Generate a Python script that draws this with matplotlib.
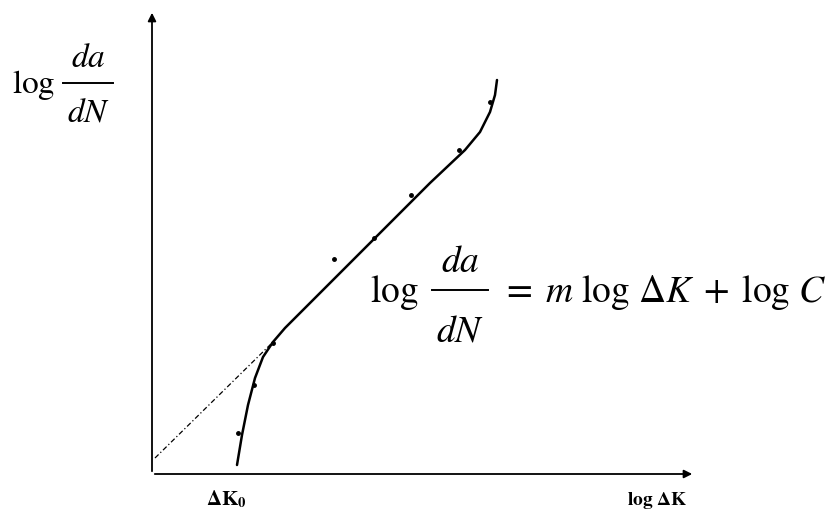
import matplotlib
matplotlib.use('Agg')
import matplotlib.pyplot as plt
from matplotlib.lines import Line2D

plt.rcParams['mathtext.fontset'] = 'stix'
plt.rcParams['font.family'] = ['Liberation Serif', 'DejaVu Serif']

# measured points (log dK, log da/dN), arbitrary units
pts_x = [1.72, 2.04, 2.42, 3.64, 4.44, 5.18, 6.14, 6.76]
pts_y = [0.82, 1.78, 2.62, 4.30, 4.72, 5.58, 6.48, 7.44]

# fitted curve through the data
curve_x = [1.70, 1.80, 1.92, 2.06, 2.22, 2.42, 2.66, 3.56, 4.56, 5.56, 6.26, 6.56, 6.76, 6.86, 6.90]
curve_y = [0.18, 0.78, 1.38, 1.92, 2.34, 2.64, 2.92, 3.82, 4.82, 5.82, 6.48, 6.84, 7.24, 7.58, 7.88]

# extrapolation of the linear (Paris) region
ext_x = [0.06, 2.42]
ext_y = [0.32, 2.64]

W, H = 837, 513
fig = plt.figure(figsize=(8.37, 5.13), dpi=100)
ax = fig.add_axes([152 / W, 39 / H, 543 / W, 464 / H])
ax.set_xlim(0, 10.86)
ax.set_ylim(0, 9.28)
for s in ax.spines.values():
    s.set_visible(False)
ax.set_xticks([])
ax.set_yticks([])

# axes with arrows
ax.annotate('', xy=(1, 0), xytext=(0, 0), xycoords='axes fraction',
            arrowprops=dict(arrowstyle='-|>', color='black', lw=1.3, mutation_scale=12))
ax.annotate('', xy=(0, 1), xytext=(0, 0), xycoords='axes fraction',
            arrowprops=dict(arrowstyle='-|>', color='black', lw=1.3, mutation_scale=12))

ax.plot(ext_x, ext_y, linestyle=(0, (4, 2, 1, 2)), color='black', lw=0.9)
ax.plot(curve_x, curve_y, color='black', lw=1.8, solid_capstyle='round')
ax.plot(pts_x, pts_y, 'o', color='black', ms=2.5)


def px(x, y):
    return x / W, 1 - y / H


def log_frac(x_log, base, line_x0, line_x1, line_y, top_base, bot_base, size):
    fig.text(*px(x_log, base), r'$\log$', fontsize=size, ha='left', va='baseline')
    fig.add_artist(Line2D([line_x0 / W, line_x1 / W], [1 - line_y / H] * 2,
                          color='black', lw=1.4))
    xc = (line_x0 + line_x1) / 2
    fig.text(*px(xc, top_base), r'$da$', fontsize=size, ha='center', va='baseline')
    fig.text(*px(xc, bot_base), r'$dN$', fontsize=size, ha='center', va='baseline')


# y-axis label
log_frac(12, 93, 63, 113, 83, 67, 122, 24)

# Paris law
log_frac(370, 302, 432, 488, 290, 272, 341, 27)
fig.text(*px(501, 302), r'$=\;m\ \log\,\Delta K\;+\;\log\,C$', fontsize=27,
         ha='left', va='baseline')

# x-axis labels
fig.text(*px(206, 505), r'$\mathbf{\Delta K}_\mathbf{0}$', fontsize=15, ha='left', va='baseline')
fig.text(*px(627, 505), r'$\mathbf{log\ \Delta K}$', fontsize=14, ha='left', va='baseline')

fig.savefig('out.png', dpi=100)
